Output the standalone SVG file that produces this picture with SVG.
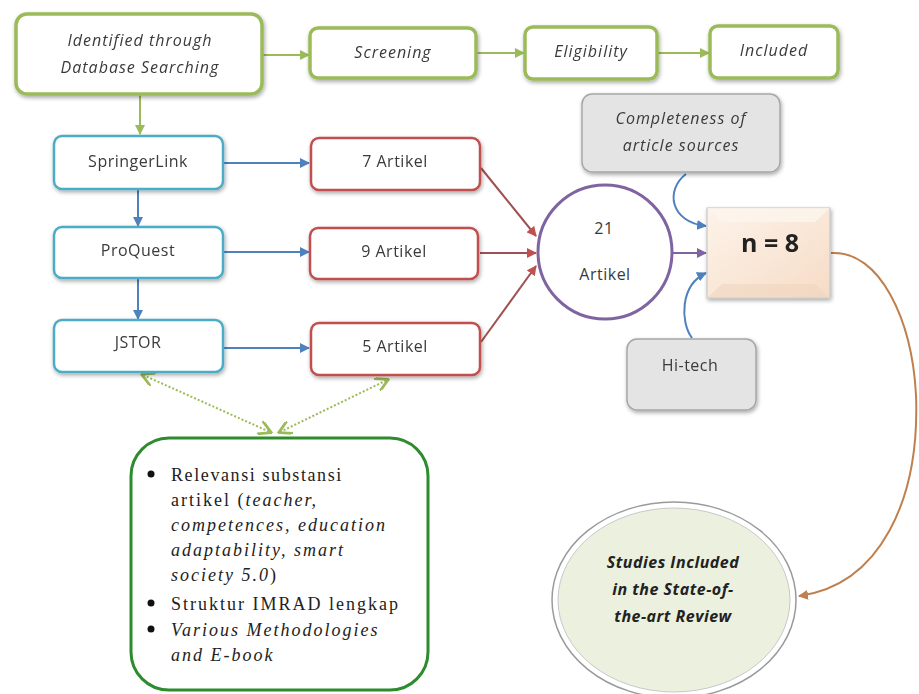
<svg xmlns="http://www.w3.org/2000/svg" width="919" height="694" viewBox="0 0 919 694">
<defs>
<style>
.sans{font-family:"Open Sans","Liberation Sans",sans-serif;fill:#3a3a3a;font-size:16px;letter-spacing:0.5px}
.it{font-style:italic;letter-spacing:1px}
.serif{font-family:"Liberation Serif","Times New Roman",serif;fill:#222;font-size:18px;letter-spacing:2px}
.gbox{fill:#fff;stroke:#9bbb59;stroke-width:3.5}
.bbox{fill:#fff;stroke:#4bacc6;stroke-width:2.5}
.rbox{fill:#fff;stroke:#c0504d;stroke-width:2.5}
.grey{fill:#e4e4e4;stroke:#a6a6a6;stroke-width:1.5}
.ga{stroke:#9bbb59;stroke-width:2;fill:none}
.ba{stroke:#4f81bd;stroke-width:2;fill:none}
.ra{stroke:#a05050;stroke-width:2;fill:none}
.dot{stroke:#9bbb59;stroke-width:2;stroke-dasharray:2 2;fill:none}
.bi{font-family:"Open Sans","Liberation Sans",sans-serif;font-weight:bold;font-style:italic;font-size:16px;letter-spacing:0.5px;fill:#222}
</style>
<filter id="sh" x="-10%" y="-10%" width="130%" height="140%"><feGaussianBlur in="SourceAlpha" stdDeviation="2"/><feOffset dx="1" dy="2"/><feComponentTransfer><feFuncA type="linear" slope="0.35"/></feComponentTransfer><feMerge><feMergeNode/><feMergeNode in="SourceGraphic"/></feMerge></filter>
<marker id="mg" viewBox="0 0 10 10" refX="9" refY="5" markerWidth="5" markerHeight="5" orient="auto-start-reverse"><path d="M0,0 L10,5 L0,10 z" fill="#9bbb59"/></marker>
<marker id="mb" viewBox="0 0 10 10" refX="9" refY="5" markerWidth="5" markerHeight="5" orient="auto"><path d="M0,0 L10,5 L0,10 z" fill="#4f81bd"/></marker>
<marker id="mr" viewBox="0 0 10 10" refX="9" refY="5" markerWidth="5" markerHeight="5" orient="auto"><path d="M0,0 L10,5 L0,10 z" fill="#c0504d"/></marker>
<marker id="mp" viewBox="0 0 10 10" refX="9" refY="5" markerWidth="5" markerHeight="5" orient="auto"><path d="M0,0 L10,5 L0,10 z" fill="#8064a2"/></marker>
<marker id="mo" viewBox="0 0 10 10" refX="9" refY="5" markerWidth="5" markerHeight="5" orient="auto"><path d="M0,0 L10,5 L0,10 z" fill="#c0804d"/></marker>
<marker id="md" viewBox="0 0 10 10" refX="8" refY="5" markerWidth="7" markerHeight="7" orient="auto-start-reverse"><path d="M0,0 L9,5 L0,10" fill="none" stroke="#9bbb59" stroke-width="2"/></marker>
<linearGradient id="pe" x1="0" y1="0" x2="1" y2="1"><stop offset="0" stop-color="#fdf3ea"/><stop offset="1" stop-color="#f6dcc6"/></linearGradient>
</defs>

<g id="connectors">
<line class="ga" x1="263" y1="55" x2="309" y2="55" marker-end="url(#mg)"/>
<line class="ga" x1="477" y1="53" x2="524" y2="53" marker-end="url(#mg)"/>
<line class="ga" x1="658" y1="53" x2="709" y2="53" marker-end="url(#mg)"/>
<line class="ga" x1="140" y1="95" x2="140" y2="134" marker-end="url(#mg)"/>
<line class="ba" x1="138" y1="190" x2="138" y2="226" marker-end="url(#mb)"/>
<line class="ba" x1="138" y1="279" x2="138" y2="319" marker-end="url(#mb)"/>
<line class="ba" x1="224" y1="163" x2="309" y2="163" marker-end="url(#mb)"/>
<line class="ba" x1="224" y1="252" x2="309" y2="252" marker-end="url(#mb)"/>
<line class="ba" x1="224" y1="348" x2="309" y2="348" marker-end="url(#mb)"/>
<line class="ra" x1="481" y1="168" x2="536" y2="236" marker-end="url(#mr)"/>
<line class="ra" x1="480" y1="253" x2="536" y2="253" marker-end="url(#mr)"/>
<line class="ra" x1="481" y1="342" x2="536" y2="266" marker-end="url(#mr)"/>
<line x1="673" y1="253" x2="706" y2="253" stroke="#8064a2" stroke-width="2" marker-end="url(#mp)"/>
<path class="ba" d="M686,174 C665,190 670,222 706,226" marker-end="url(#mb)"/>
<path class="ba" d="M692,338 C680,322 680,285 706,273" marker-end="url(#mb)"/>
<path d="M831,253 C880,250 912,320 916,395 C920,500 880,585 799,596" stroke="#c0804d" stroke-width="2" fill="none" marker-end="url(#mo)"/>
<line class="dot" x1="143" y1="375" x2="270" y2="432" marker-start="url(#md)" marker-end="url(#md)"/>
<line class="dot" x1="280" y1="432" x2="387" y2="380" marker-start="url(#md)" marker-end="url(#md)"/>
</g>

<g id="identified" filter="url(#sh)">
<rect class="gbox" x="16" y="14" width="246" height="80" rx="11"/>
<text class="sans it" text-anchor="middle" x="140" y="46">Identified through</text>
<text class="sans it" text-anchor="middle" x="140" y="73">Database Searching</text>
</g>
<g id="screening" filter="url(#sh)">
<rect class="gbox" x="310" y="28" width="166" height="50" rx="8"/>
<text class="sans it" text-anchor="middle" x="393" y="58">Screening</text>
</g>
<g id="eligibility" filter="url(#sh)">
<rect class="gbox" x="525" y="27" width="132" height="52" rx="8"/>
<text class="sans it" text-anchor="middle" x="591" y="57">Eligibility</text>
</g>
<g id="included" filter="url(#sh)">
<rect class="gbox" x="710" y="26" width="128" height="52" rx="8"/>
<text class="sans it" text-anchor="middle" x="774" y="56">Included</text>
</g>

<g id="springerlink" filter="url(#sh)">
<rect class="bbox" x="54" y="136" width="169" height="53" rx="8"/>
<text class="sans" text-anchor="middle" x="138" y="167">SpringerLink</text>
</g>
<g id="proquest" filter="url(#sh)">
<rect class="bbox" x="54" y="227" width="169" height="51" rx="8"/>
<text class="sans" text-anchor="middle" x="138" y="256">ProQuest</text>
</g>
<g id="jstor" filter="url(#sh)">
<rect class="bbox" x="54" y="320" width="169" height="52" rx="8"/>
<text class="sans" text-anchor="middle" x="138" y="348">JSTOR</text>
</g>

<g id="a7" filter="url(#sh)">
<rect class="rbox" x="311" y="138" width="169" height="52" rx="8"/>
<text class="sans" text-anchor="middle" x="395" y="167">7 Artikel</text>
</g>
<g id="a9" filter="url(#sh)">
<rect class="rbox" x="310" y="228" width="168" height="51" rx="8"/>
<text class="sans" text-anchor="middle" x="394" y="257">9 Artikel</text>
</g>
<g id="a5" filter="url(#sh)">
<rect class="rbox" x="311" y="323" width="169" height="52" rx="8"/>
<text class="sans" text-anchor="middle" x="395" y="352">5 Artikel</text>
</g>

<g id="total">
<circle cx="605" cy="252" r="67" fill="#fff" stroke="#8064a2" stroke-width="3"/>
<text class="sans" text-anchor="middle" x="604" y="234">21</text>
<text class="sans" text-anchor="middle" x="605" y="280">Artikel</text>
</g>

<g id="completeness" filter="url(#sh)">
<rect class="grey" x="582" y="94" width="198" height="78" rx="10"/>
<text class="sans it" text-anchor="middle" x="681" y="124" fill="#555">Completeness of</text>
<text class="sans it" text-anchor="middle" x="681" y="151" fill="#555">article sources</text>
</g>
<g id="hitech" filter="url(#sh)">
<rect class="grey" x="627" y="339" width="129" height="71" rx="10"/>
<text class="sans" text-anchor="middle" x="690" y="371" fill="#555">Hi-tech</text>
</g>

<g id="n8" filter="url(#sh)">
<rect x="707" y="208" width="123" height="90" fill="url(#pe)" stroke="#bfbfbf" stroke-width="1"/>
<polygon points="707,208 830,208 815,222 722,222" fill="#fdf5ee" opacity="0.8"/>
<polygon points="707,298 830,298 815,284 722,284" fill="#efd6c0" opacity="0.6"/>
<text font-family="'Open Sans','Liberation Sans',sans-serif" font-weight="bold" font-size="25" fill="#222" text-anchor="middle" x="770" y="252">n = 8</text>
</g>

<g id="criteria">
<rect x="131" y="438" width="297" height="252" rx="38" fill="#fff" stroke="#2e8b2e" stroke-width="3"/>
<circle cx="151" cy="474" r="3.5" fill="#111"/>
<circle cx="151" cy="603" r="3.5" fill="#111"/>
<circle cx="151" cy="629" r="3.5" fill="#111"/>
<text class="serif" x="171" y="481" style="letter-spacing:1.6px">Relevansi substansi</text>
<text class="serif" x="171" y="506">artikel (<tspan font-style="italic">teacher,</tspan></text>
<text class="serif" font-style="italic" x="171" y="531">competences, education</text>
<text class="serif" font-style="italic" x="171" y="556">adaptability, smart</text>
<text class="serif" x="171" y="581"><tspan font-style="italic">society 5.0</tspan>)</text>
<text class="serif" x="171" y="610">Struktur IMRAD lengkap</text>
<text class="serif" font-style="italic" x="171" y="636">Various Methodologies</text>
<text class="serif" font-style="italic" x="171" y="661">and E-book</text>
</g>

<g id="studies">
<ellipse cx="674" cy="600" rx="122" ry="98" fill="#fff" stroke="#9a9a9a" stroke-width="1.5"/>
<ellipse cx="674" cy="600" rx="116" ry="92" fill="#ebf1de" stroke="#c8c8c8" stroke-width="1"/>
<text class="bi" text-anchor="middle" x="673" y="568">Studies Included</text>
<text class="bi" text-anchor="middle" x="673" y="595">in the State-of-</text>
<text class="bi" text-anchor="middle" x="673" y="622">the-art Review</text>
</g>
</svg>
